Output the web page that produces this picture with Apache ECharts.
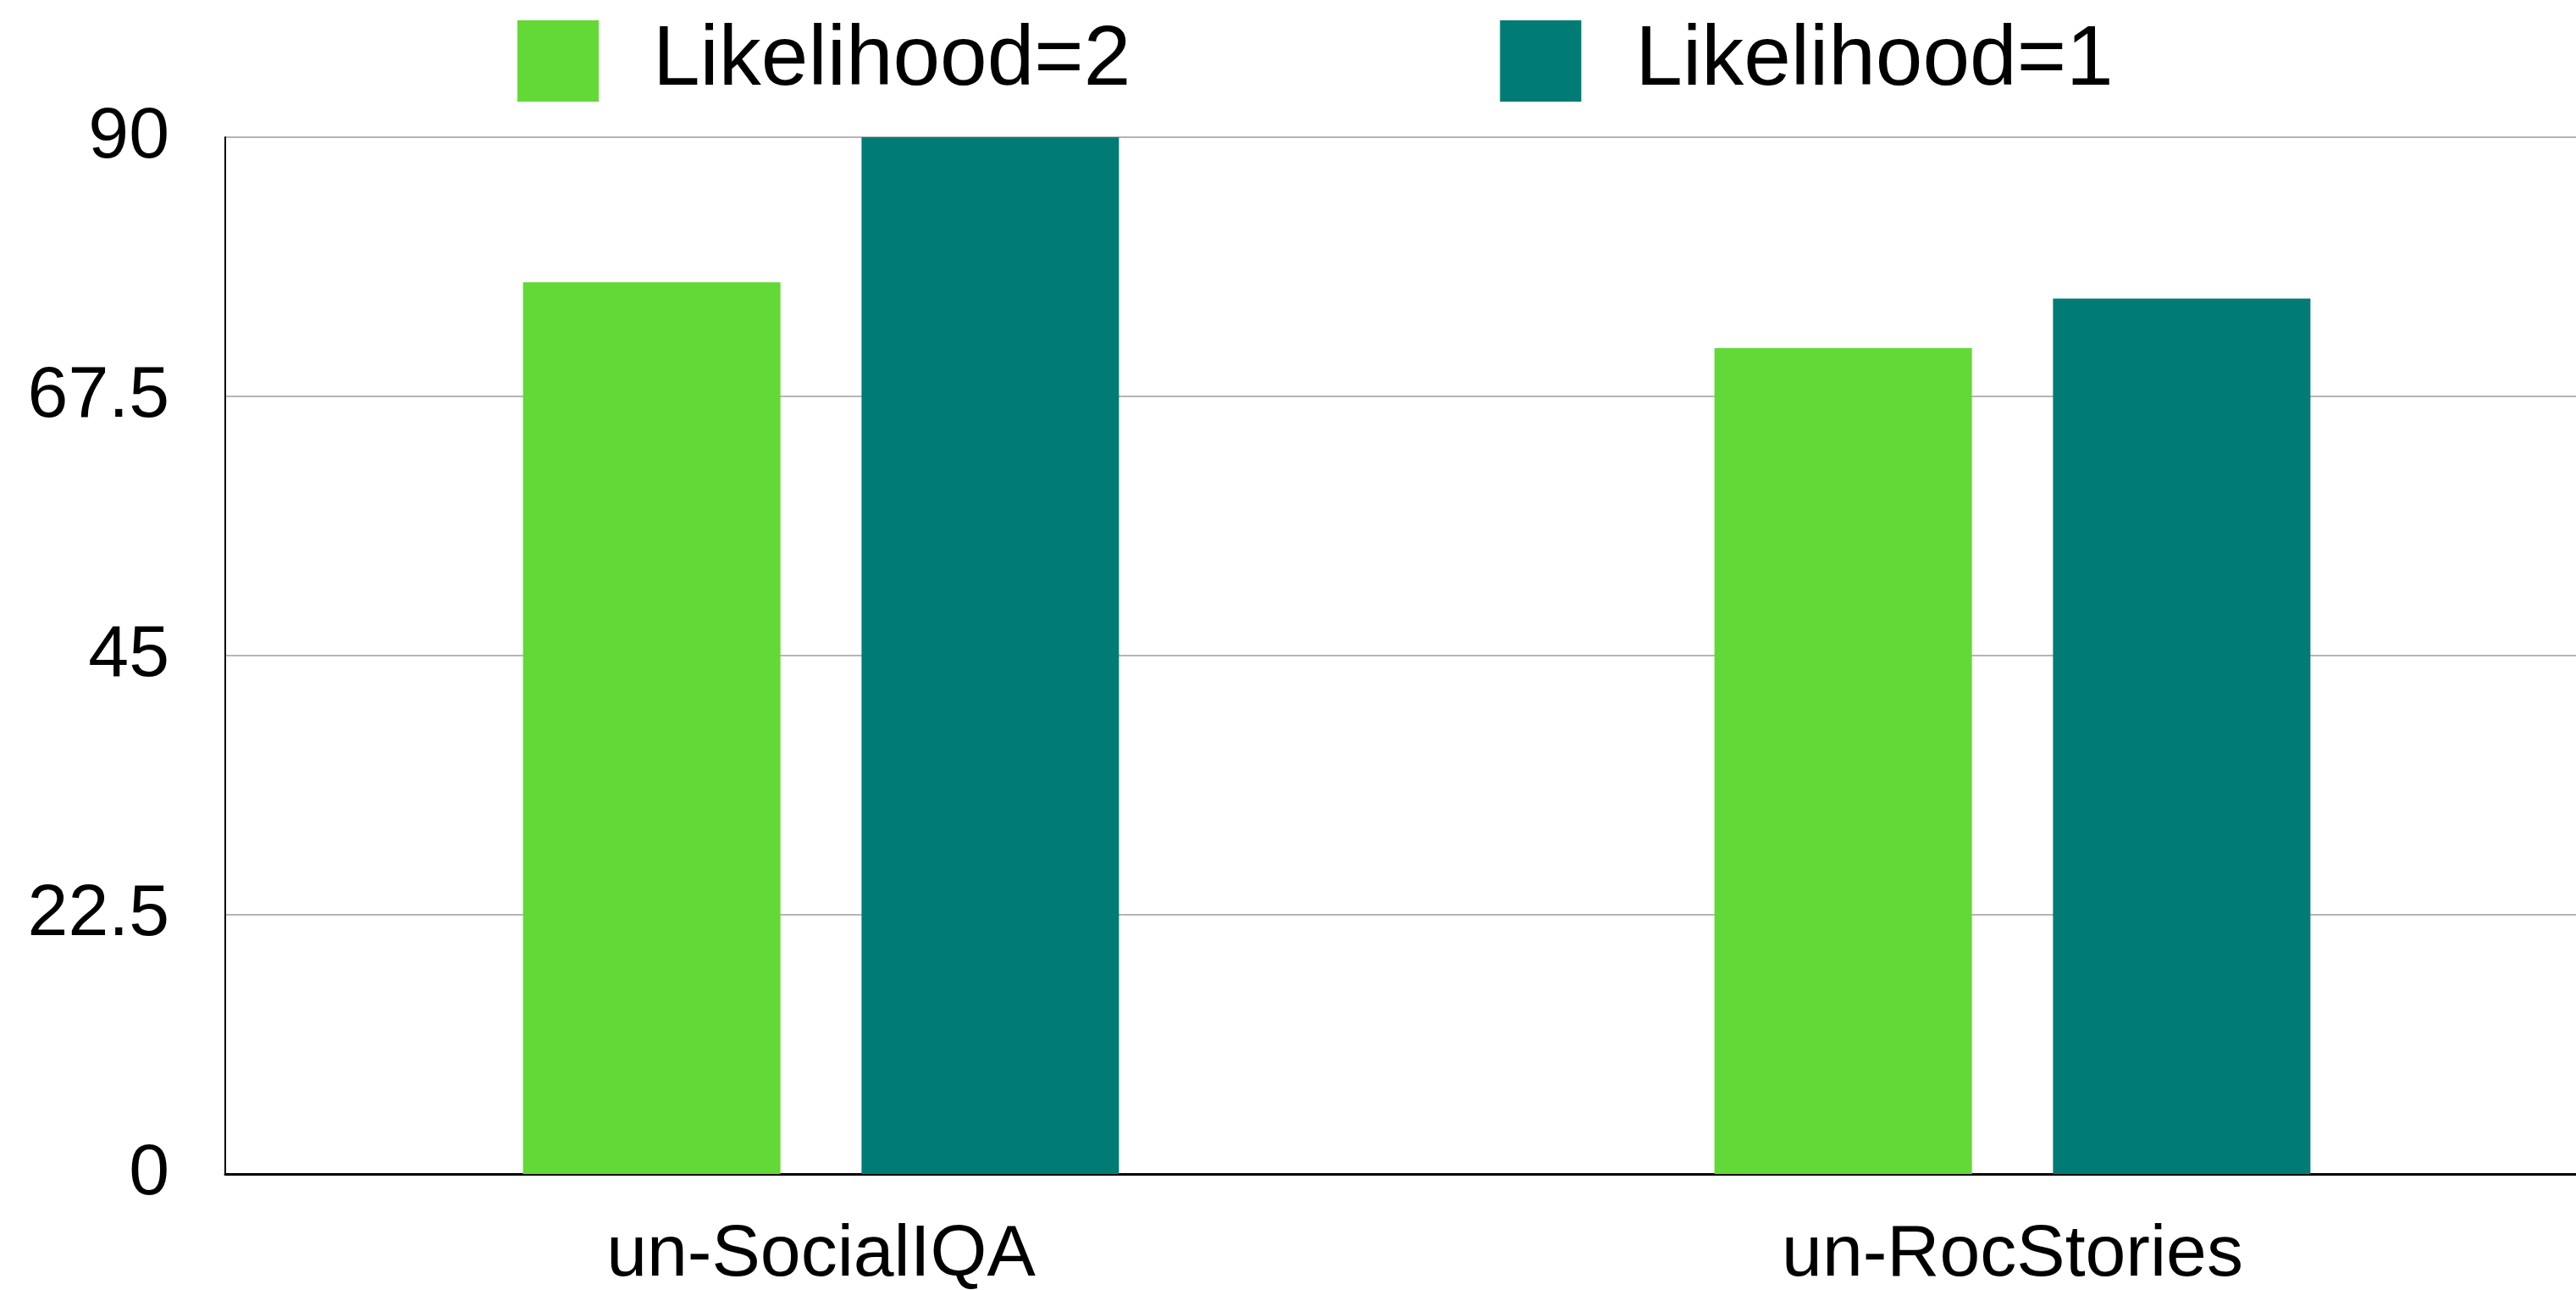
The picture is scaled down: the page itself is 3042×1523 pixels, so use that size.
<!DOCTYPE html>
<html>
<head>
<meta charset="utf-8">
<script src="https://cdn.jsdelivr.net/npm/echarts@6/dist/echarts.min.js"></script>
<style>
  html, body { margin: 0; padding: 0; background: #fff; }
  #chart { width: 3042px; height: 1523px; }
</style>
</head>
<body>
<div id="chart"></div>
<script>
// Dataset names and scores
const categories = ['un-SocialIQA', 'un-RocStories'];
const seriesNames = ['Likelihood=2', 'Likelihood=1'];
const likelihood2 = [77.4, 71.7];
const likelihood1 = [90, 76.0];
const yTicks = [0, 22.5, 45, 67.5, 90];

const FONT = '"Liberation Sans", Arial, Helvetica, sans-serif';
const colors = ['#62d936', '#007c74'];

const chart = echarts.init(document.getElementById('chart'));
chart.setOption({
  animation: false,
  backgroundColor: '#ffffff',
  color: colors,
  legend: {
    left: 611,
    top: 22,
    padding: 0,
    itemWidth: 96,
    itemHeight: 96,
    itemGap: 436,
    icon: 'rect',
    data: seriesNames,
    textStyle: {
      fontFamily: FONT,
      fontSize: 100,
      color: '#000',
      padding: [0, 0, 0, 59]
    }
  },
  // the plot area runs a little past the right edge of the canvas
  grid: {
    left: 266,
    top: 162,
    width: 2814,
    height: 1224,
    containLabel: false,
    outerBoundsMode: 'none'
  },
  xAxis: {
    type: 'category',
    data: categories,
    axisLine: { show: true, lineStyle: { color: '#000', width: 3 } },
    axisTick: { show: false },
    axisLabel: {
      fontFamily: FONT,
      fontSize: 86,
      color: '#000',
      margin: 53
    },
    splitLine: { show: false }
  },
  yAxis: {
    type: 'value',
    min: yTicks[0],
    max: yTicks[yTicks.length - 1],
    interval: yTicks[1] - yTicks[0],
    axisLine: { show: true, lineStyle: { color: '#000', width: 2 } },
    axisTick: { show: false },
    axisLabel: {
      fontFamily: FONT,
      fontSize: 86,
      color: '#000',
      margin: 66
    },
    splitLine: { show: true, lineStyle: { color: '#b5b5b5', width: 2 } }
  },
  series: [
    {
      name: seriesNames[0],
      type: 'bar',
      data: likelihood2,
      barWidth: 304,
      barGap: '31.5%',
      itemStyle: { color: colors[0] }
    },
    {
      name: seriesNames[1],
      type: 'bar',
      data: likelihood1,
      barWidth: 304,
      barGap: '31.5%',
      itemStyle: { color: colors[1] }
    }
  ]
});
</script>
</body>
</html>
